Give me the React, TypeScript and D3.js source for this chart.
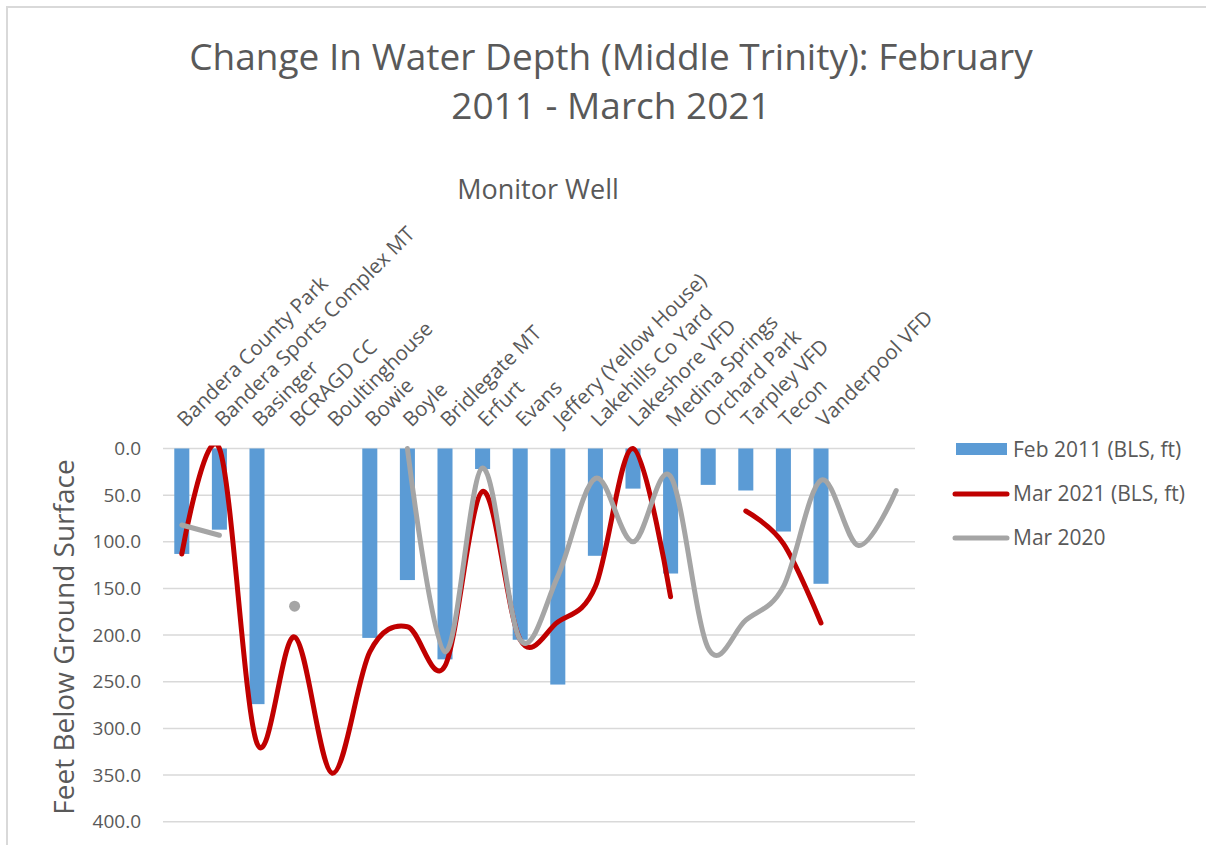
import React from 'react';
import * as d3 from 'd3';

// Monitor wells (last two slots have no label in the source chart)
const categories = [
  'Bandera County Park', 'Bandera Sports Complex MT', 'Basinger', 'BCRAGD CC',
  'Boultinghouse', 'Bowie', 'Boyle', 'Bridlegate MT', 'Erfurt', 'Evans',
  'Jeffery (Yellow House)', 'Lakehills Co Yard', 'Lakeshore VFD', 'Medina Springs',
  'Orchard Park', 'Tarpley VFD', 'Tecon', 'Vanderpool VFD', '', ''
];

const feb2011: (number | null)[] = [113, 87, 274, null, null, 203, 141, 226, 22, 205, 253, 115, 43, 134, 39, 45, 89, 145, null, null];
const mar2021: (number | null)[] = [113, 0, 316, 202, 348, 218, 191, 233, 46, 205, 186, 148, 0, 159, null, 67, 102, 187, null, null];
const mar2020: (number | null)[] = [82, 93, null, 169, null, null, 0, 218, 21, 205, 137, 32, 100, 30, 214, 184, 148, 34, 104, 45];

const yTicks = [0, 50, 100, 150, 200, 250, 300, 350, 400];

const seriesNames = ['Feb 2011 (BLS, ft)', 'Mar 2021 (BLS, ft)', 'Mar 2020'];

const FONT = '"Open Sans", sans-serif';
const TEXT = '#595959';
const BLUE = '#5B9BD5';
const RED = '#C00000';
const GREY = '#A5A5A5';

const App: React.FC = () => {
  const width = 1206;
  const height = 845;
  const plot = { left: 163, right: 915, top: 448.5, bottom: 821.7 };

  const x = d3.scaleBand<number>()
    .domain(categories.map((_, i) => i))
    .range([plot.left, plot.right])
    .paddingInner(0.6)
    .paddingOuter(0.3);

  const y = d3.scaleLinear()
    .domain([0, 400])
    .range([plot.top, plot.bottom]);

  const cx = (i: number) => (x(i) ?? 0) + x.bandwidth() / 2;

  const line = d3.line<number | null>()
    .defined(d => d != null)
    .x((_, i) => cx(i))
    .y(d => y(d as number))
    .curve(d3.curveCatmullRom.alpha(0));

  // isolated points (no neighbours) are drawn as dots
  const isolated = (arr: (number | null)[]) =>
    arr.map((v, i) => ({ v, i }))
      .filter(d => d.v != null && arr[d.i - 1] == null && arr[d.i + 1] == null);

  return (
    <svg width={width} height={height} style={{ position: 'absolute', left: 0, top: 0 }} fontFamily={FONT}>
      <defs>
        <clipPath id="plotClip">
          <rect x={plot.left} y={plot.top - 3} width={plot.right - plot.left} height={plot.bottom - plot.top + 6} />
        </clipPath>
      </defs>
      <rect x={0} y={0} width={width} height={height} fill="#fff" />
      <rect x={7} y={7} width={width + 20} height={height + 20} fill="none" stroke="#D9D9D9" strokeWidth={2} />

      {/* title */}
      <text x={611} y={70} textAnchor="middle" fontSize={37} fill={TEXT}>
        Change In Water Depth (Middle Trinity): February
      </text>
      <text x={611} y={119} textAnchor="middle" fontSize={37} fill={TEXT}>
        2011 - March 2021
      </text>

      {/* category axis title */}
      <text x={538} y={199} textAnchor="middle" fontSize={27} fill={TEXT}>Monitor Well</text>

      {/* value axis title */}
      <text transform={`translate(74,637) rotate(-90)`} textAnchor="middle" fontSize={28} fill={TEXT}>
        Feet Below Ground Surface
      </text>

      {/* gridlines + tick labels */}
      {yTicks.map(t => (
        <g key={t}>
          <line x1={plot.left} x2={plot.right} y1={y(t)} y2={y(t)} stroke="#D9D9D9" strokeWidth={1.5} />
          <text x={141} y={y(t)} dy="0.35em" textAnchor="end" fontSize={19} fill={TEXT}>
            {d3.format('.1f')(t)}
          </text>
        </g>
      ))}

      {/* category labels */}
      {categories.map((c, i) => (
        <text key={i} transform={`translate(${cx(i) + 4},${428}) rotate(-45)`} fontSize={20.5} fill={TEXT}>
          {c}
        </text>
      ))}

      {/* bars */}
      {feb2011.map((v, i) => v == null ? null : (
        <rect key={i} x={x(i)} y={y(0)} width={x.bandwidth()} height={y(v) - y(0)} fill={BLUE} />
      ))}

      <g clipPath="url(#plotClip)">
        <path d={line(mar2021) ?? ''} fill="none" stroke={RED} strokeWidth={5} strokeLinecap="round" strokeLinejoin="round" />
        <path d={line(mar2020) ?? ''} fill="none" stroke={GREY} strokeWidth={5} strokeLinecap="round" strokeLinejoin="round" />
        {isolated(mar2020).map(d => (
          <circle key={d.i} cx={cx(d.i)} cy={y(d.v as number)} r={5.5} fill={GREY} />
        ))}
        {isolated(mar2021).map(d => (
          <circle key={d.i} cx={cx(d.i)} cy={y(d.v as number)} r={5.5} fill={RED} />
        ))}
      </g>

      {/* legend */}
      <g>
        <rect x={956} y={443} width={51} height={12} fill={BLUE} />
        <text x={1013} y={450} dy="0.35em" fontSize={21} fill={TEXT}>{seriesNames[0]}</text>
        <line x1={955} x2={1007} y1={494} y2={494} stroke={RED} strokeWidth={5} strokeLinecap="round" />
        <text x={1013} y={494} dy="0.35em" fontSize={21} fill={TEXT}>{seriesNames[1]}</text>
        <line x1={955} x2={1007} y1={538} y2={538} stroke={GREY} strokeWidth={5} strokeLinecap="round" />
        <text x={1013} y={538} dy="0.35em" fontSize={21} fill={TEXT}>{seriesNames[2]}</text>
      </g>
    </svg>
  );
};

export default App;
